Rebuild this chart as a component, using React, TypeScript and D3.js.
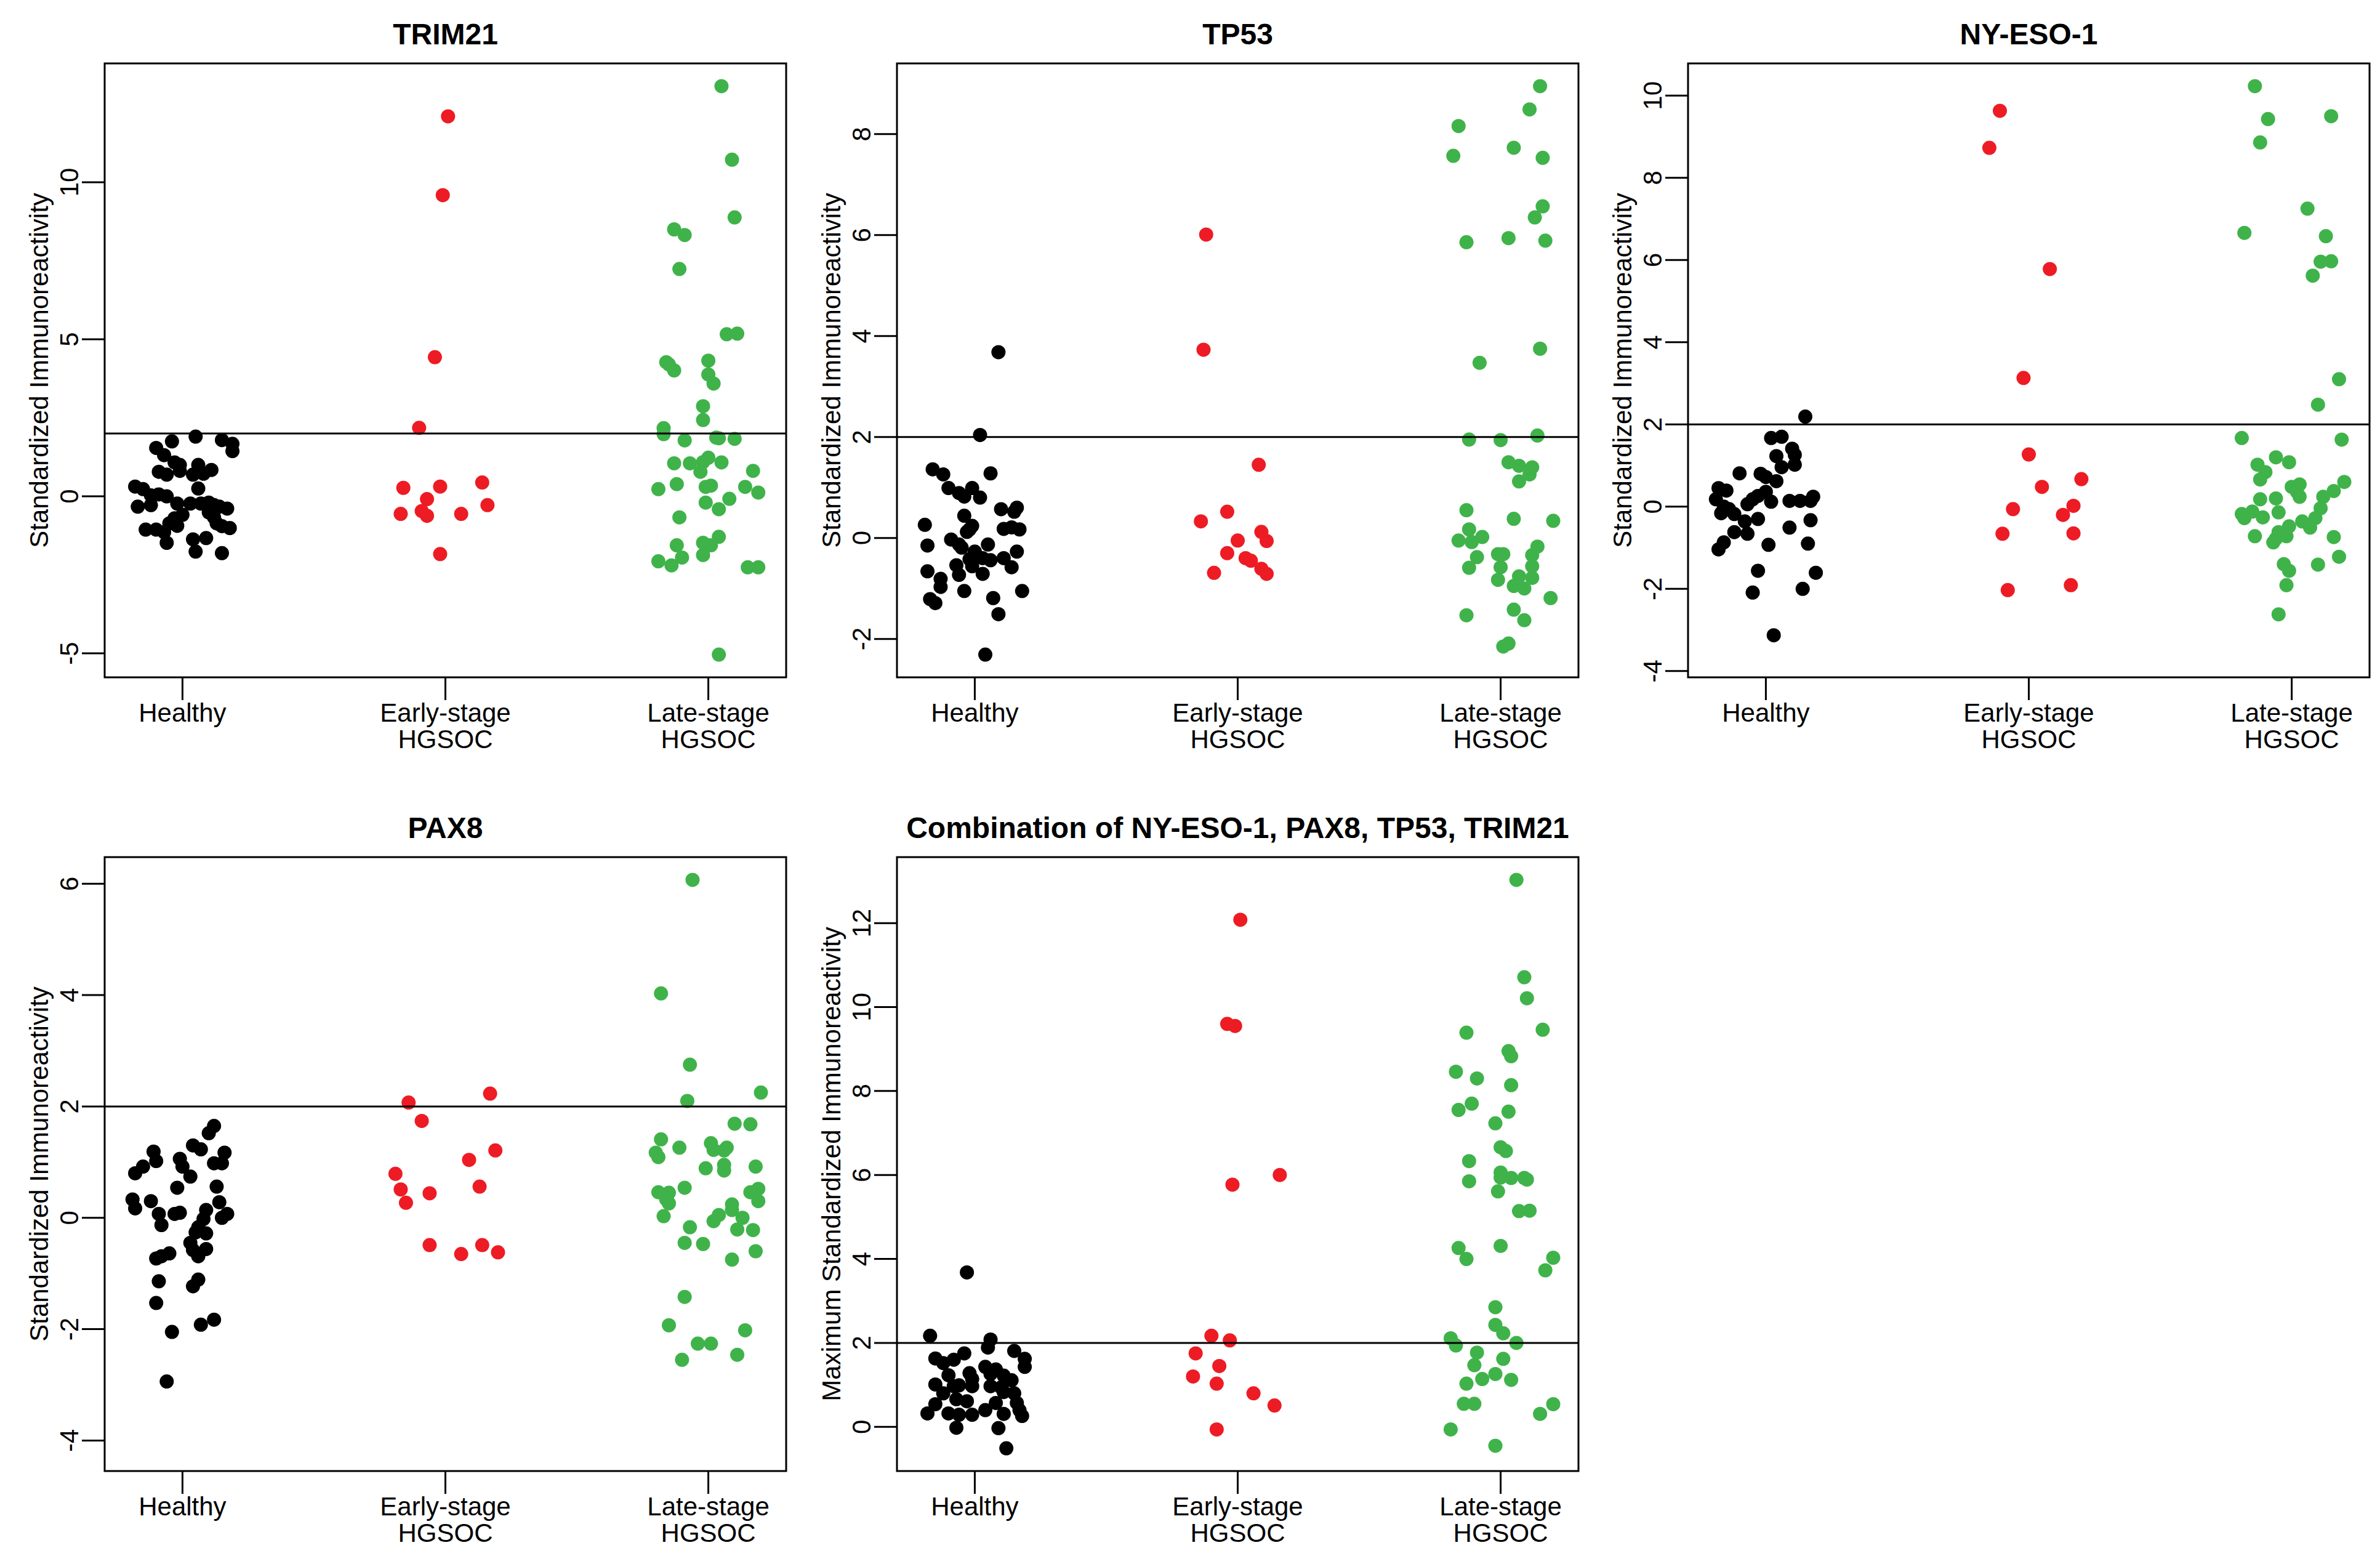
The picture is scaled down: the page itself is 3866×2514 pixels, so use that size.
import React from "react";
import * as d3 from "d3";

type Pt = [number, number]; // [jitter offset, value]

const groupLabels = [["Healthy"], ["Early-stage", "HGSOC"], ["Late-stage", "HGSOC"]];
const groupColors = ["#000000", "#ED1C24", "#3FB34A"];
const threshold = 2;

const panelTitles = ["TRIM21", "TP53", "NY-ESO-1", "PAX8", "Combination of NY-ESO-1, PAX8, TP53, TRIM21"];
const yTitles = [
  "Standardized Immunoreactivity",
  "Standardized Immunoreactivity",
  "Standardized Immunoreactivity",
  "Standardized Immunoreactivity",
  "Maximum Standardized Immunoreactivity",
];
// lower y limit used in the original when below the data minimum
const yFloors: (number | null)[] = [null, null, -3.6, -4.14, null];

const trim21Healthy: Pt[] = [[-0.18,0.31],[-0.15,0.23],[-0.17,-0.33],[-0.12,-0.28],[-0.10,1.54],[-0.07,1.31],[-0.04,1.75],[-0.09,0.78],[-0.06,0.69],[-0.03,1.08],[-0.01,1.00],[-0.01,0.81],[0.05,1.90],[0.06,1.00],[0.04,0.69],[0.08,0.72],[0.11,0.84],[0.06,0.25],[-0.12,0.03],[-0.09,0.06],[-0.06,0.0],[-0.02,-0.23],[0.0,-0.59],[-0.03,-0.70],[-0.05,-0.86],[-0.02,-0.94],[-0.07,-1.14],[-0.10,-1.06],[-0.14,-1.06],[-0.06,-1.48],[0.04,-1.37],[0.09,-1.33],[0.05,-1.76],[0.15,-1.81],[0.15,1.79],[0.19,1.67],[0.19,1.44],[0.10,-0.20],[0.12,-0.28],[0.14,-0.33],[0.17,-0.39],[0.12,-0.67],[0.13,-0.86],[0.15,-0.95],[0.18,-1.01],[0.10,-0.51],[0.07,-0.23],[0.03,-0.23]];
const trim21Early: Pt[] = [[-0.16,0.27],[0.01,12.1],[-0.01,9.59],[-0.04,4.43],[-0.10,2.18],[-0.07,-0.09],[-0.02,0.31],[0.14,0.44],[0.16,-0.28],[-0.17,-0.56],[-0.09,-0.47],[-0.07,-0.62],[0.06,-0.56],[-0.02,-1.84]];
const trim21Late: Pt[] = [[0.05,13.06],[0.09,10.72],[0.10,8.88],[-0.13,8.50],[-0.09,8.32],[-0.11,7.24],[0.07,5.16],[0.11,5.18],[-0.16,4.27],[-0.15,4.20],[-0.13,4.01],[0.0,4.32],[0.0,3.88],[0.02,3.59],[-0.02,2.87],[-0.02,2.43],[-0.17,2.17],[-0.17,1.98],[-0.09,1.78],[0.03,1.87],[0.04,1.85],[0.10,1.83],[-0.13,1.05],[-0.07,1.05],[-0.02,1.09],[0.0,1.23],[0.05,1.08],[-0.03,0.78],[0.17,0.81],[-0.19,0.23],[-0.12,0.39],[-0.01,0.30],[0.01,0.34],[0.14,0.30],[0.19,0.12],[-0.01,-0.20],[0.08,-0.08],[0.04,-0.41],[-0.11,-0.67],[-0.12,-1.56],[-0.02,-1.48],[0.01,-1.56],[0.04,-1.29],[-0.02,-1.87],[-0.10,-1.95],[-0.19,-2.07],[-0.14,-2.20],[0.15,-2.26],[0.19,-2.26],[0.04,-5.04]];

const tp53Healthy: Pt[] = [[0.09,3.68],[0.02,2.04],[-0.16,1.36],[-0.12,1.26],[0.06,1.28],[-0.10,0.99],[-0.06,0.89],[-0.04,0.82],[-0.01,0.99],[0.02,0.80],[-0.04,0.44],[-0.19,0.26],[-0.01,0.24],[-0.02,0.17],[-0.03,0.12],[0.10,0.57],[0.16,0.60],[0.15,0.52],[0.11,0.18],[0.14,0.21],[0.17,0.17],[-0.18,-0.15],[-0.09,-0.03],[-0.06,-0.13],[-0.05,-0.19],[0.0,-0.27],[0.05,-0.13],[-0.02,-0.42],[0.03,-0.40],[0.06,-0.44],[0.11,-0.40],[0.14,-0.58],[0.16,-0.27],[-0.07,-0.54],[-0.01,-0.56],[0.03,-0.71],[-0.06,-0.73],[-0.18,-0.66],[-0.13,-0.81],[-0.13,-0.97],[-0.04,-1.05],[-0.17,-1.21],[-0.15,-1.29],[0.07,-1.19],[0.18,-1.05],[0.09,-1.51],[0.04,-2.31]];
const tp53Early: Pt[] = [[-0.12,6.01],[-0.13,3.73],[0.08,1.45],[-0.04,0.52],[-0.14,0.33],[0.0,-0.05],[0.09,0.12],[0.11,-0.06],[-0.04,-0.30],[0.03,-0.40],[0.05,-0.45],[0.09,-0.61],[0.11,-0.71],[-0.09,-0.69]];
const tp53Late: Pt[] = [[0.15,8.95],[0.11,8.49],[-0.16,8.16],[-0.18,7.57],[0.05,7.73],[0.16,7.53],[0.16,6.57],[0.13,6.35],[-0.13,5.86],[0.03,5.94],[0.17,5.89],[0.15,3.75],[-0.08,3.47],[-0.12,1.95],[0.0,1.94],[0.14,2.03],[0.03,1.50],[0.07,1.43],[0.12,1.40],[0.11,1.26],[0.07,1.12],[-0.13,0.55],[0.05,0.38],[0.20,0.34],[-0.12,0.17],[-0.16,-0.05],[-0.11,-0.08],[-0.07,0.02],[-0.09,-0.38],[-0.12,-0.59],[-0.01,-0.32],[0.01,-0.32],[0.0,-0.58],[0.14,-0.17],[0.12,-0.34],[0.12,-0.56],[0.07,-0.76],[0.12,-0.79],[-0.01,-0.83],[0.05,-0.95],[0.09,-1.0],[0.19,-1.19],[0.05,-1.42],[0.09,-1.63],[-0.13,-1.53],[0.03,-2.09],[0.01,-2.15]];

const nyesoHealthy: Pt[] = [[0.15,2.19],[0.02,1.67],[0.06,1.70],[0.10,1.41],[0.11,1.26],[0.04,1.23],[0.06,0.96],[0.11,1.02],[-0.10,0.81],[-0.02,0.80],[0.0,0.72],[0.04,0.62],[-0.18,0.45],[-0.15,0.39],[-0.19,0.18],[-0.16,0.0],[-0.14,-0.06],[-0.17,-0.16],[-0.12,-0.18],[-0.07,0.06],[-0.05,0.18],[-0.03,0.26],[0.0,0.36],[0.02,0.12],[0.09,0.14],[0.13,0.14],[0.17,0.14],[0.18,0.24],[-0.08,-0.36],[-0.03,-0.30],[-0.12,-0.62],[-0.07,-0.66],[0.17,-0.33],[0.09,-0.51],[-0.16,-0.87],[-0.18,-1.04],[0.01,-0.93],[0.16,-0.90],[0.19,-1.61],[-0.03,-1.56],[0.14,-2.0],[-0.05,-2.09],[0.03,-3.13]];
const nyesoEarly: Pt[] = [[-0.11,9.63],[-0.15,8.73],[0.08,5.78],[-0.02,3.13],[0.0,1.27],[0.05,0.48],[0.20,0.67],[-0.06,-0.06],[0.17,0.02],[0.13,-0.20],[-0.10,-0.66],[0.17,-0.65],[-0.08,-2.03],[0.16,-1.91]];
const nyesoLate: Pt[] = [[-0.14,10.23],[-0.09,9.43],[-0.12,8.86],[0.15,9.50],[0.06,7.25],[-0.18,6.66],[0.13,6.58],[0.11,5.96],[0.15,5.97],[0.08,5.62],[0.18,3.10],[0.10,2.48],[-0.19,1.67],[0.19,1.63],[-0.06,1.20],[-0.01,1.08],[-0.13,1.02],[-0.10,0.84],[-0.12,0.66],[0.0,0.48],[0.03,0.54],[0.02,0.36],[0.03,0.24],[0.20,0.60],[0.16,0.38],[0.12,0.24],[-0.12,0.18],[-0.06,0.20],[-0.19,-0.18],[-0.18,-0.28],[-0.15,-0.12],[-0.11,-0.26],[-0.05,-0.14],[0.11,-0.04],[0.09,-0.28],[0.04,-0.36],[0.07,-0.51],[-0.01,-0.48],[-0.05,-0.62],[-0.02,-0.72],[-0.06,-0.78],[-0.14,-0.72],[-0.07,-0.87],[0.16,-0.74],[0.18,-1.22],[-0.03,-1.40],[-0.01,-1.56],[0.10,-1.41],[-0.02,-1.91],[-0.05,-2.62]];

const pax8Healthy: Pt[] = [[0.12,1.65],[0.10,1.52],[-0.11,1.19],[0.04,1.30],[0.07,1.23],[0.16,1.17],[-0.15,0.92],[-0.18,0.80],[-0.10,1.02],[-0.01,1.06],[0.0,0.92],[0.12,0.98],[0.15,0.98],[0.03,0.74],[-0.02,0.54],[0.13,0.56],[-0.19,0.33],[-0.12,0.30],[-0.18,0.17],[0.14,0.28],[0.09,0.14],[-0.09,0.07],[-0.03,0.07],[-0.01,0.09],[0.17,0.07],[0.15,0.0],[-0.08,-0.13],[0.08,-0.02],[0.06,-0.17],[0.05,-0.26],[0.09,-0.28],[0.03,-0.45],[0.04,-0.58],[0.09,-0.56],[0.06,-0.69],[-0.05,-0.64],[-0.08,-0.69],[-0.10,-0.73],[-0.09,-1.14],[0.06,-1.11],[0.04,-1.23],[-0.10,-1.53],[0.07,-1.92],[0.12,-1.83],[-0.04,-2.05],[-0.06,-2.94]];
const pax8Early: Pt[] = [[-0.14,2.07],[0.17,2.23],[-0.09,1.74],[0.19,1.21],[0.09,1.04],[-0.19,0.79],[-0.17,0.51],[-0.15,0.27],[-0.06,0.44],[0.13,0.56],[-0.06,-0.49],[0.14,-0.49],[0.06,-0.65],[0.20,-0.62]];
const pax8Late: Pt[] = [[-0.06,6.07],[-0.18,4.03],[-0.07,2.75],[-0.08,2.10],[0.20,2.25],[0.10,1.69],[0.16,1.68],[-0.18,1.41],[-0.11,1.26],[-0.20,1.17],[-0.19,1.09],[0.01,1.34],[0.02,1.22],[0.06,1.21],[0.07,1.26],[-0.01,0.89],[0.06,0.95],[0.06,0.85],[0.18,0.92],[-0.19,0.46],[-0.15,0.45],[-0.09,0.54],[-0.16,0.33],[-0.15,0.26],[-0.17,0.03],[0.09,0.24],[0.09,0.14],[0.04,0.05],[0.02,-0.06],[0.13,0.0],[0.16,0.46],[0.19,0.52],[0.19,0.30],[-0.07,-0.17],[0.11,-0.21],[0.17,-0.22],[-0.09,-0.45],[-0.02,-0.47],[0.18,-0.60],[0.09,-0.75],[-0.09,-1.42],[-0.15,-1.93],[0.14,-2.02],[-0.04,-2.26],[0.01,-2.26],[0.11,-2.46],[-0.10,-2.55]];

const comboHealthy: Pt[] = [[-0.03,3.68],[-0.17,2.17],[0.06,2.08],[0.05,1.89],[0.15,1.81],[-0.15,1.63],[-0.12,1.52],[-0.08,1.60],[-0.04,1.75],[0.19,1.62],[0.19,1.43],[0.04,1.43],[0.08,1.37],[-0.02,1.28],[-0.01,1.14],[-0.10,1.23],[0.06,1.26],[0.11,1.22],[0.14,1.11],[-0.15,1.01],[-0.08,0.97],[-0.06,0.99],[-0.01,0.97],[0.06,0.97],[0.10,0.94],[0.11,0.83],[0.15,0.80],[-0.12,0.80],[-0.07,0.66],[-0.03,0.61],[-0.15,0.54],[0.08,0.57],[0.16,0.57],[0.17,0.40],[-0.18,0.32],[-0.10,0.32],[-0.06,0.29],[-0.01,0.29],[0.04,0.40],[0.11,0.31],[0.18,0.26],[-0.07,-0.02],[0.09,-0.03],[0.12,-0.51]];
const comboEarly: Pt[] = [[0.01,12.08],[-0.04,9.60],[-0.01,9.55],[-0.02,5.77],[0.16,6.0],[-0.10,2.17],[-0.03,2.06],[-0.16,1.75],[-0.07,1.45],[-0.17,1.20],[-0.08,1.03],[0.06,0.80],[0.14,0.51],[-0.08,-0.06]];
const comboLate: Pt[] = [[0.06,13.03],[0.09,10.71],[0.10,10.21],[-0.13,9.39],[0.16,9.46],[0.03,8.95],[0.04,8.83],[-0.17,8.46],[-0.09,8.30],[0.04,8.14],[-0.11,7.70],[-0.16,7.55],[0.03,7.51],[-0.02,7.23],[0.0,6.66],[0.02,6.57],[-0.12,6.33],[-0.12,5.85],[0.0,6.06],[0.0,5.94],[0.04,5.93],[0.09,5.93],[0.10,5.89],[-0.01,5.61],[0.07,5.14],[0.11,5.15],[-0.16,4.26],[-0.13,4.0],[0.0,4.31],[0.20,4.03],[0.17,3.73],[-0.02,2.85],[-0.02,2.43],[0.01,2.23],[-0.19,2.11],[-0.17,1.94],[0.06,2.0],[-0.09,1.77],[-0.10,1.47],[0.01,1.62],[-0.13,1.03],[-0.07,1.14],[-0.02,1.26],[0.04,1.12],[-0.14,0.55],[-0.10,0.55],[0.20,0.54],[0.15,0.31],[-0.19,-0.06],[-0.02,-0.45]];

const panelSeries: Pt[][][] = [
  [trim21Healthy, trim21Early, trim21Late],
  [tp53Healthy, tp53Early, tp53Late],
  [nyesoHealthy, nyesoEarly, nyesoLate],
  [pax8Healthy, pax8Early, pax8Late],
  [comboHealthy, comboEarly, comboLate],
];

const W = 1107;
const H = 997;
const panelPos = [[170, 103], [1457, 103], [2742, 103], [170, 1392], [1457, 1392]];
const FONT = "'Liberation Sans', Arial, Helvetica, sans-serif";

function Panel({ idx }: { idx: number }) {
  const series = panelSeries[idx];
  const [left, top] = panelPos[idx];

  // stripchart-like x limits (jitter range, then 4% expansion)
  const x = d3.scaleLinear().domain([0.8 - 0.096, 3.2 + 0.096]).range([0, W]);

  const vals = series.flat().map((d) => d[1]);
  let [lo, hi] = d3.extent(vals) as [number, number];
  const floor = yFloors[idx];
  if (floor != null) lo = Math.min(lo, floor);
  const pad = (hi - lo) * 0.04;
  const y = d3.scaleLinear().domain([lo - pad, hi + pad]).range([H, 0]);
  const ticks = y.ticks(6);

  return (
    <g transform={`translate(${left},${top})`} fontFamily={FONT}>
      <text x={W / 2} y={-31} textAnchor="middle" fontSize={48} fontWeight="bold">
        {panelTitles[idx]}
      </text>
      {series.map((pts, g) =>
        pts.map((d, i) => (
          <circle key={`${g}-${i}`} cx={x(g + 1 + d[0])} cy={y(d[1])} r={11.5} fill={groupColors[g]} />
        ))
      )}
      <line x1={0} x2={W} y1={y(threshold)} y2={y(threshold)} stroke="#000" strokeWidth={3} />
      <rect x={0} y={0} width={W} height={H} fill="none" stroke="#000" strokeWidth={3} />
      {ticks.map((t) => (
        <g key={t} transform={`translate(0,${y(t)})`}>
          <line x1={-37} x2={0} stroke="#000" strokeWidth={3} />
          <text transform="translate(-43,0) rotate(-90)" textAnchor="middle" fontSize={42}>
            {t}
          </text>
        </g>
      ))}
      {groupLabels.map((lines, g) => (
        <g key={g} transform={`translate(${x(g + 1)},${H})`}>
          <line y1={0} y2={37} stroke="#000" strokeWidth={3} />
          <text textAnchor="middle" fontSize={42}>
            {lines.map((l, k) => (
              <tspan key={k} x={0} y={72 + k * 43}>
                {l}
              </tspan>
            ))}
          </text>
        </g>
      ))}
      <text transform={`translate(-92,${H / 2}) rotate(-90)`} textAnchor="middle" fontSize={42}>
        {yTitles[idx]}
      </text>
    </g>
  );
}

export default function App() {
  return (
    <div style={{ position: "absolute", left: 0, top: 0 }}>
      <svg width={3866} height={2514} style={{ display: "block", background: "#fff" }}>
        {panelTitles.map((_, i) => (
          <Panel key={i} idx={i} />
        ))}
      </svg>
    </div>
  );
}
